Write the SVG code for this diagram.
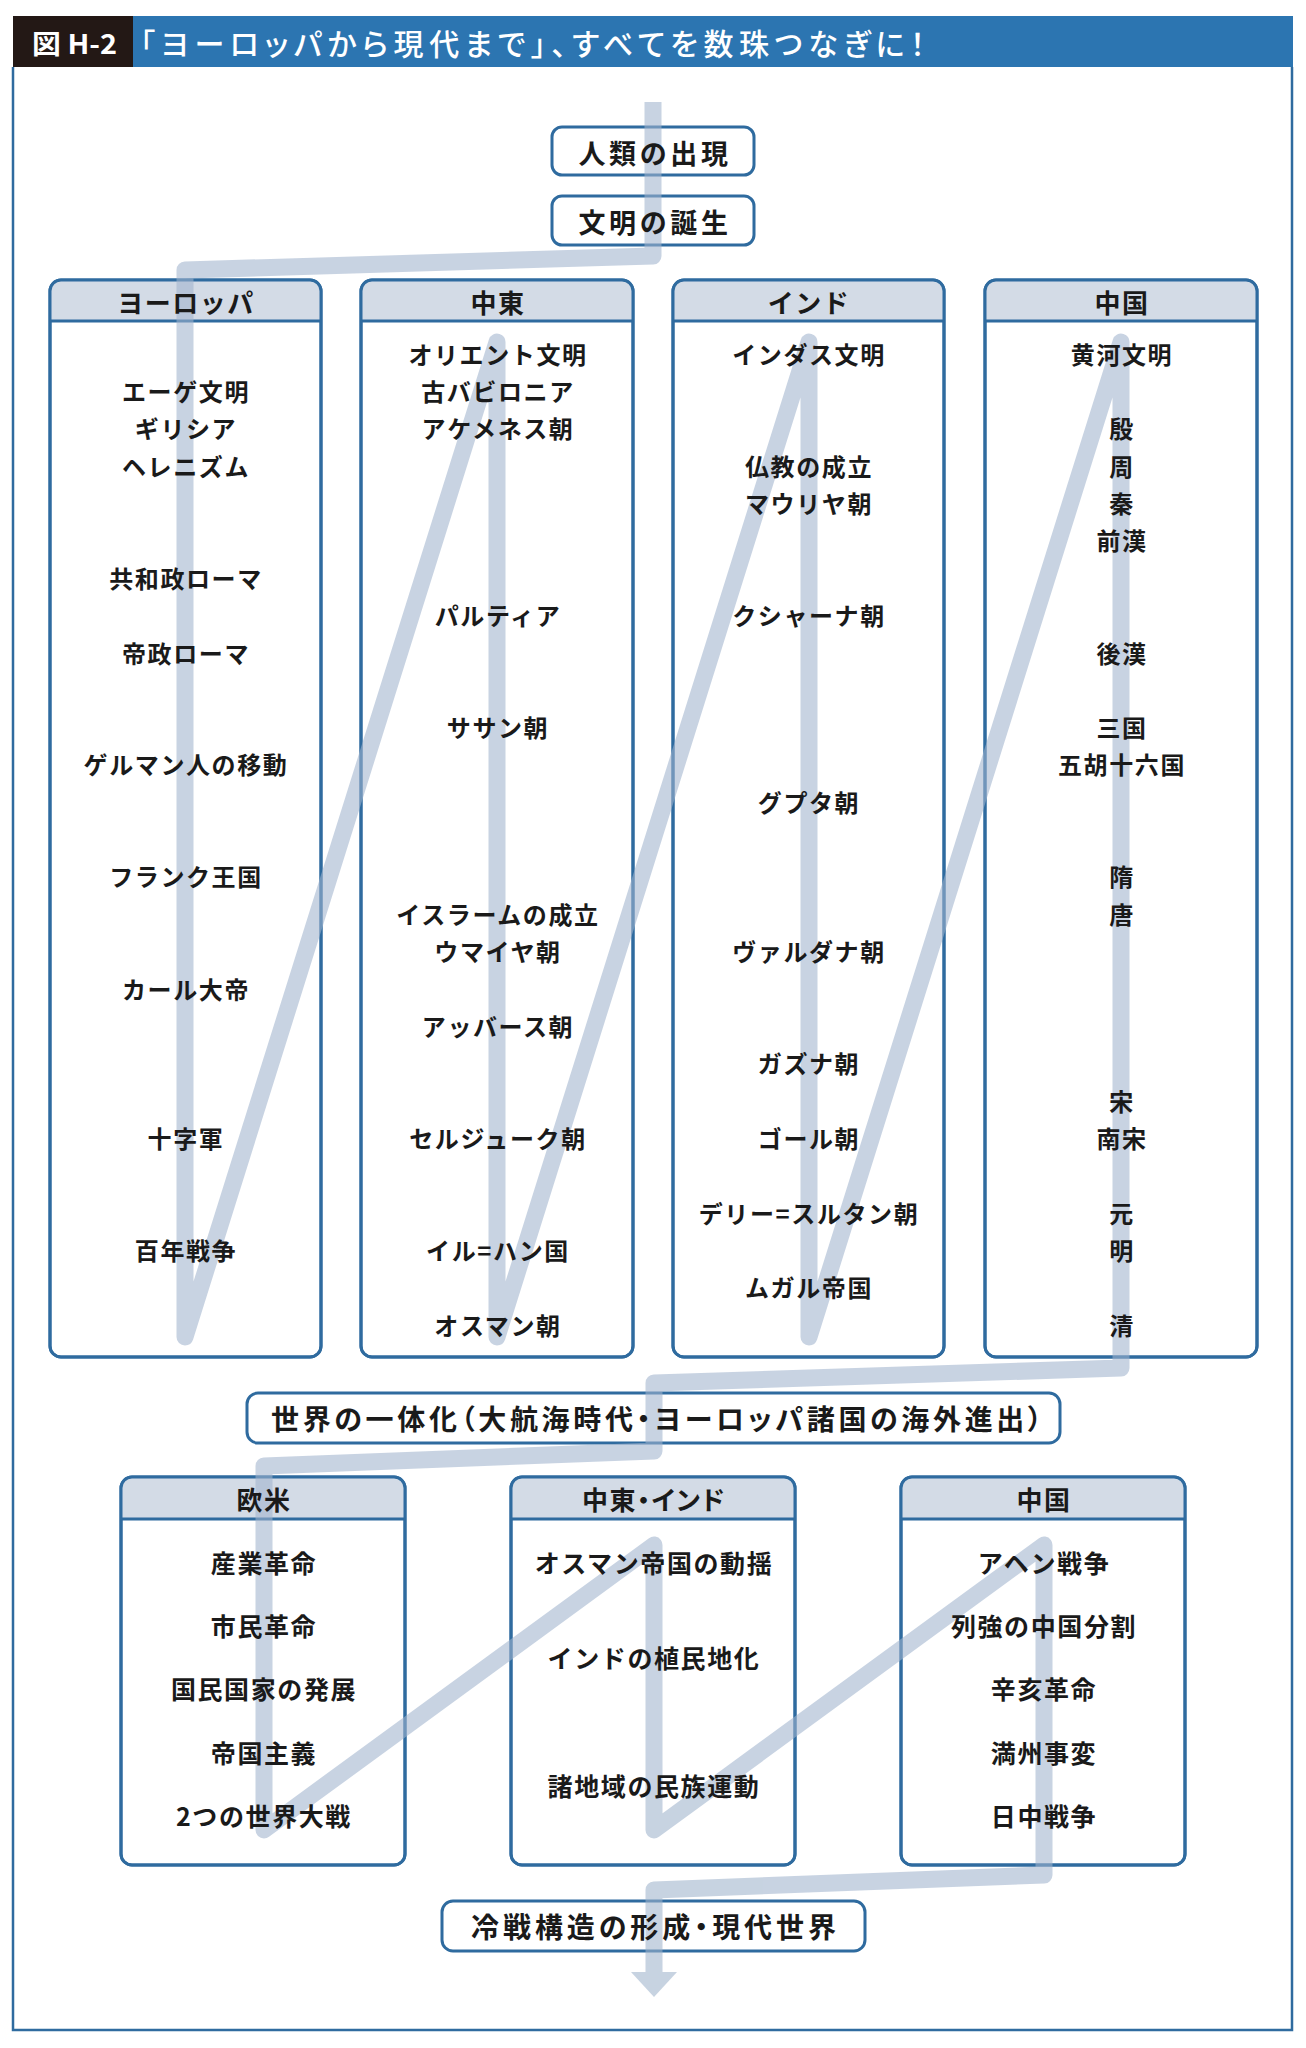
<svg xmlns="http://www.w3.org/2000/svg" width="1306" height="2048" viewBox="0 0 1306 2048">
<style>
.bx{fill:#fff;stroke:#2f6b9f;stroke-width:3}
.ol{fill:none;stroke:#2f6b9f;stroke-width:3}
.hd{fill:#d3dbe6}
.dv{stroke:#2f6b9f;stroke-width:3}
text{font-family:"Noto Sans CJK JP","Noto Sans",sans-serif;fill:#1a1a1a;text-anchor:middle;dominant-baseline:central}
.it{font-size:24px;font-weight:700;letter-spacing:1.6px}
.ib{font-size:25px;font-weight:700;letter-spacing:1.6px}
.hl{font-size:26px;font-weight:700;letter-spacing:1.5px}
.bg{font-size:27px;font-weight:700;letter-spacing:3.6px}
.wide{font-size:28px;font-weight:700;text-anchor:start;font-feature-settings:"palt"}
.pt{font-feature-settings:"palt"}
.band{fill:none;stroke:#a0b4cd;stroke-width:17;stroke-linejoin:round;stroke-linecap:butt}
</style>
<rect width="1306" height="2048" fill="#fff"/>
<g id="title">
<rect x="13" y="16" width="1280" height="51" fill="#2c75b1"/>
<rect x="13" y="16" width="120" height="51" fill="#231815"/>
<text x="32" y="42" style="font-size:27px;font-weight:700;fill:#fff;text-anchor:start" textLength="85" lengthAdjust="spacingAndGlyphs">図 H-2</text>
<text class="pt" x="140" y="42" style="font-size:30px;font-weight:500;fill:#fff;text-anchor:start" textLength="785" lengthAdjust="spacing">「ヨーロッパから現代まで」、すべてを数珠つなぎに！</text>
</g>
<path d="M13,67 V2030 H1292 V67" fill="none" stroke="#2f6b9f" stroke-width="2.5"/>
<g id="n-jinrui"><rect class="bx" x="552" y="127" width="202" height="48" rx="10"/></g>
<g id="n-bunmei"><rect class="bx" x="552" y="196" width="202" height="49" rx="10"/></g>
<g id="col-europe">
<rect class="bx" x="50" y="280" width="271" height="1077" rx="11"/>
<path class="hd" d="M50,321 V291 Q50,280 61,280 H310 Q321,280 321,291 V321 Z"/>
<line class="dv" x1="50" y1="321" x2="321" y2="321"/>
<rect class="ol" x="50" y="280" width="271" height="1077" rx="11"/>
</g>
<g id="col-mideast">
<rect class="bx" x="361" y="280" width="272" height="1077" rx="11"/>
<path class="hd" d="M361,321 V291 Q361,280 372,280 H622 Q633,280 633,291 V321 Z"/>
<line class="dv" x1="361" y1="321" x2="633" y2="321"/>
<rect class="ol" x="361" y="280" width="272" height="1077" rx="11"/>
</g>
<g id="col-india">
<rect class="bx" x="673" y="280" width="271" height="1077" rx="11"/>
<path class="hd" d="M673,321 V291 Q673,280 684,280 H933 Q944,280 944,291 V321 Z"/>
<line class="dv" x1="673" y1="321" x2="944" y2="321"/>
<rect class="ol" x="673" y="280" width="271" height="1077" rx="11"/>
</g>
<g id="col-china">
<rect class="bx" x="985" y="280" width="272" height="1077" rx="11"/>
<path class="hd" d="M985,321 V291 Q985,280 996,280 H1246 Q1257,280 1257,291 V321 Z"/>
<line class="dv" x1="985" y1="321" x2="1257" y2="321"/>
<rect class="ol" x="985" y="280" width="272" height="1077" rx="11"/>
</g>
<g id="n-sekai"><rect class="bx" x="247" y="1393" width="813" height="50" rx="11"/></g>
<g id="col-oubei">
<rect class="bx" x="121" y="1477" width="284" height="388" rx="11"/>
<path class="hd" d="M121,1519 V1488 Q121,1477 132,1477 H394 Q405,1477 405,1488 V1519 Z"/>
<line class="dv" x1="121" y1="1519" x2="405" y2="1519"/>
<rect class="ol" x="121" y="1477" width="284" height="388" rx="11"/>
</g>
<g id="col-mideast-india">
<rect class="bx" x="511" y="1477" width="284" height="388" rx="11"/>
<path class="hd" d="M511,1519 V1488 Q511,1477 522,1477 H784 Q795,1477 795,1488 V1519 Z"/>
<line class="dv" x1="511" y1="1519" x2="795" y2="1519"/>
<rect class="ol" x="511" y="1477" width="284" height="388" rx="11"/>
</g>
<g id="col-china2">
<rect class="bx" x="901" y="1477" width="284" height="388" rx="11"/>
<path class="hd" d="M901,1519 V1488 Q901,1477 912,1477 H1174 Q1185,1477 1185,1488 V1519 Z"/>
<line class="dv" x1="901" y1="1519" x2="1185" y2="1519"/>
<rect class="ol" x="901" y="1477" width="284" height="388" rx="11"/>
</g>
<g id="n-reisen"><rect class="bx" x="442" y="1901" width="423" height="50" rx="11"/></g>
<g id="connectors" opacity="0.58">
<polyline class="band" points="653,102 653,256 185,270 185,1337 497,342 497,1337 809,342 809,1337 1121,342 1121,1368 654,1383 654,1451 264,1466 264,1830 654,1545 654,1830 1044,1545 1044,1875 654,1890 654,1972"/>
<polygon points="631,1972 677,1972 654,1997" fill="#a0b4cd"/>
</g>
<g id="labels">
<text class="bg" x="655" y="152">人類の出現</text>
<text class="bg" x="655" y="221">文明の誕生</text>
<text class="hl" x="186" y="301">ヨーロッパ</text>
<text class="hl" x="498" y="301">中東</text>
<text class="hl" x="809" y="301">インド</text>
<text class="hl" x="1122" y="301">中国</text>
<text class="it" x="186" y="390">エーゲ文明</text>
<text class="it" x="186" y="427">ギリシア</text>
<text class="it" x="186" y="465">ヘレニズム</text>
<text class="it" x="186" y="577">共和政ローマ</text>
<text class="it" x="186" y="652">帝政ローマ</text>
<text class="it" x="186" y="763">ゲルマン人の移動</text>
<text class="it" x="186" y="875">フランク王国</text>
<text class="it" x="186" y="988">カール大帝</text>
<text class="it" x="186" y="1137">十字軍</text>
<text class="it" x="186" y="1249">百年戦争</text>
<text class="it" x="498" y="353">オリエント文明</text>
<text class="it" x="498" y="390">古バビロニア</text>
<text class="it" x="498" y="427">アケメネス朝</text>
<text class="it" x="498" y="614">パルティア</text>
<text class="it" x="498" y="726">ササン朝</text>
<text class="it" x="498" y="913">イスラームの成立</text>
<text class="it" x="498" y="950">ウマイヤ朝</text>
<text class="it" x="498" y="1025">アッバース朝</text>
<text class="it" x="498" y="1137">セルジューク朝</text>
<text class="it" x="498" y="1249">イル=ハン国</text>
<text class="it" x="498" y="1324">オスマン朝</text>
<text class="it" x="809" y="353">インダス文明</text>
<text class="it" x="809" y="465">仏教の成立</text>
<text class="it" x="809" y="502">マウリヤ朝</text>
<text class="it" x="809" y="614">クシャーナ朝</text>
<text class="it" x="809" y="801">グプタ朝</text>
<text class="it" x="809" y="950">ヴァルダナ朝</text>
<text class="it" x="809" y="1062">ガズナ朝</text>
<text class="it" x="809" y="1137">ゴール朝</text>
<text class="it" x="809" y="1212">デリー=スルタン朝</text>
<text class="it" x="809" y="1286">ムガル帝国</text>
<text class="it" x="1122" y="353">黄河文明</text>
<text class="it" x="1122" y="427">殷</text>
<text class="it" x="1122" y="465">周</text>
<text class="it" x="1122" y="502">秦</text>
<text class="it" x="1122" y="539">前漢</text>
<text class="it" x="1122" y="652">後漢</text>
<text class="it" x="1122" y="726">三国</text>
<text class="it" x="1122" y="763">五胡十六国</text>
<text class="it" x="1122" y="875">隋</text>
<text class="it" x="1122" y="913">唐</text>
<text class="it" x="1122" y="1100">宋</text>
<text class="it" x="1122" y="1137">南宋</text>
<text class="it" x="1122" y="1212">元</text>
<text class="it" x="1122" y="1249">明</text>
<text class="it" x="1122" y="1324">清</text>
<text class="wide" x="271" y="1418" textLength="771" lengthAdjust="spacing">世界の一体化（大航海時代・ヨーロッパ諸国の海外進出）</text>
<text class="hl" x="264" y="1498">欧米</text>
<text class="hl pt" x="654" y="1498">中東・インド</text>
<text class="hl" x="1044" y="1498">中国</text>
<text class="ib" x="264" y="1562">産業革命</text>
<text class="ib" x="264" y="1625">市民革命</text>
<text class="ib" x="264" y="1688">国民国家の発展</text>
<text class="ib" x="264" y="1752">帝国主義</text>
<text class="ib" x="264" y="1815">2つの世界大戦</text>
<text class="ib" x="654" y="1562">オスマン帝国の動揺</text>
<text class="ib" x="654" y="1657">インドの植民地化</text>
<text class="ib" x="654" y="1785">諸地域の民族運動</text>
<text class="ib" x="1044" y="1562">アヘン戦争</text>
<text class="ib" x="1044" y="1625">列強の中国分割</text>
<text class="ib" x="1044" y="1688">辛亥革命</text>
<text class="ib" x="1044" y="1752">満州事変</text>
<text class="ib" x="1044" y="1815">日中戦争</text>
<text class="wide" x="471" y="1926" textLength="365" lengthAdjust="spacing">冷戦構造の形成・現代世界</text>
</g>
</svg>
